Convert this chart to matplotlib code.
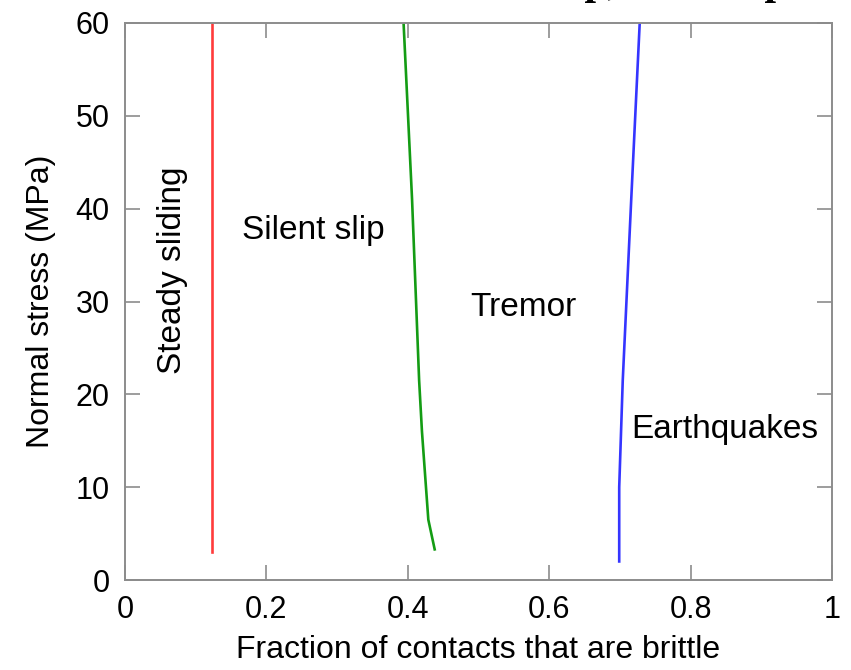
import matplotlib
matplotlib.use("Agg")
import matplotlib.pyplot as plt

# boundary curves (fraction brittle, normal stress MPa)
steady_x = [0.123, 0.123]
steady_y = [3.0, 60.0]

silent_x = [0.438, 0.429, 0.420, 0.416, 0.406, 0.394]
silent_y = [3.3, 6.5, 16.0, 21.5, 41.0, 60.0]

quake_x = [0.699, 0.699, 0.704, 0.716, 0.728]
quake_y = [2.0, 10.0, 21.5, 41.0, 60.0]

regime_names = ["Steady sliding", "Silent slip", "Tremor", "Earthquakes"]
regime_x = [0.067, 0.267, 0.564, 0.849]
regime_y = [33.4, 37.7, 29.4, 16.2]
regime_rot = [90, 0, 0, 0]

xticks = [0, 0.2, 0.4, 0.6, 0.8, 1]
xticklabels = ["0", "0.2", "0.4", "0.6", "0.8", "1"]
yticks = [0, 10, 20, 30, 40, 50, 60]

plt.rcParams['font.family'] = ['Liberation Sans', 'DejaVu Sans']

fig = plt.figure(figsize=(8.51, 6.70), dpi=100)
ax = fig.add_axes([0.1469, 0.1343, 0.9777 - 0.1469, 0.9657 - 0.1343])

ax.plot(steady_x, steady_y, color='#ff3b3b', lw=1.9)
ax.plot(silent_x, silent_y, color='#149c14', lw=1.9)
ax.plot(quake_x, quake_y, color='#3535ff', lw=1.9)

for name, x, y, rot in zip(regime_names, regime_x, regime_y, regime_rot):
    ax.text(x, y, name, rotation=rot, ha='center', va='center', fontsize=24)

ax.set_xlim(0, 1)
ax.set_ylim(0, 60)
ax.set_xticks(xticks)
ax.set_xticklabels(xticklabels)
ax.set_yticks(yticks)
ax.tick_params(direction='in', length=11, width=1.2, color='#8c8c8c',
               labelsize=22, pad=11, top=True, right=True)
for sp in ax.spines.values():
    sp.set_color('#8c8c8c')
    sp.set_linewidth(1.4)

ax.set_xlabel("Fraction of contacts that are brittle", fontsize=23, labelpad=7)
ax.set_ylabel("Normal stress (MPa)", fontsize=23, labelpad=14)

# title cut off by the crop, only the descenders show
fig.text(0.925, 1.0085, "Stable creep, stick-slip", ha='right', va='baseline',
         fontsize=30, fontweight='bold', family='Liberation Serif')

fig.savefig("out.png", dpi=100)
